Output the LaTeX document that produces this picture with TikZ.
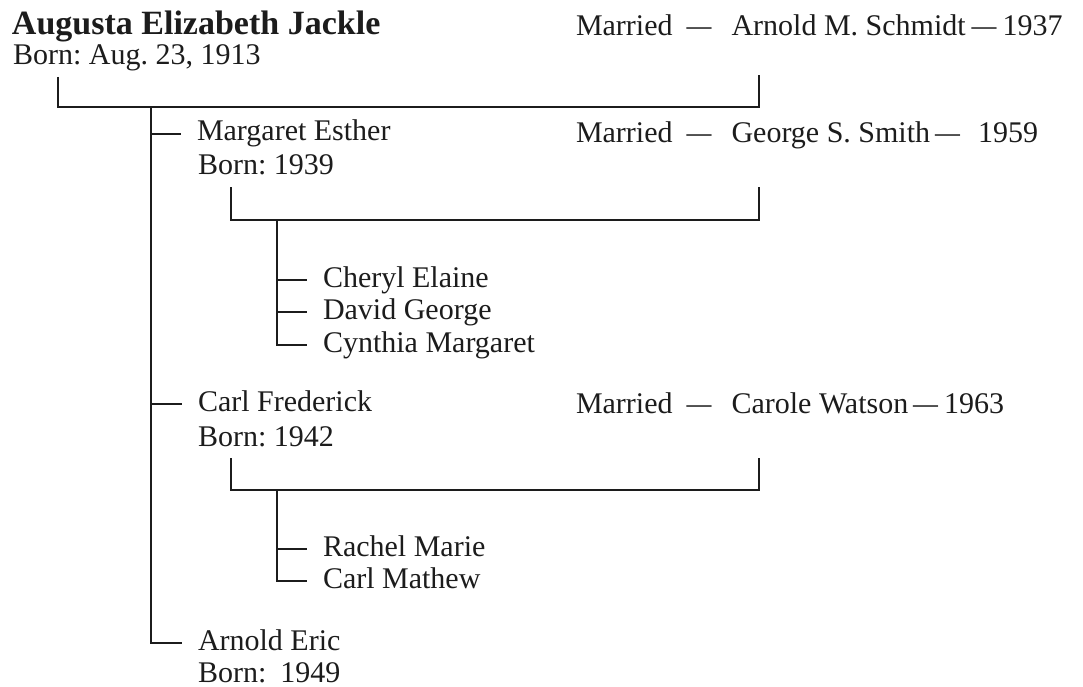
\documentclass[tikz,border=0pt]{standalone}
\usepackage{fontspec}
\setmainfont{Liberation Serif}
\frenchspacing
\definecolor{ink}{HTML}{1C1C1C}
% a slightly narrowed em dash, as set in the chart
\newcommand\chartdash{\scalebox{0.83}[1]{—}}
\begin{document}
\begin{tikzpicture}[x=1pt,y=-1pt,
  txt/.style={anchor=base west, inner sep=0pt, outer sep=0pt, text=ink,
    font=\fontsize{30}{32}\selectfont},
  ttl/.style={txt, font=\fontsize{34}{36}\selectfont\bfseries},
  link/.style={draw=ink, line width=2pt, line join=miter},
  tick/.style={shift={(-16,-7)}}
]
\useasboundingbox (0,0) rectangle (1083,687);

% ---- generation 1
\node[ttl] (root)  at (12,35) {Augusta Elizabeth Jackle};
\node[txt] (rootb) at (13,65) {Born: Aug. 23, 1913};
\node[txt] (rootm) at (576,36) {Married\hspace{14pt}\chartdash\hspace{20pt}Arnold M. Schmidt\hspace{6pt}\chartdash\hspace{6pt}1937};

% ---- generation 2
\node[txt] (m1)  at (197,141) {Margaret Esther};
\node[txt] (m1b) at (198,175) {Born: 1939};
\node[txt] (m1m) at (576,143) {Married\hspace{14pt}\chartdash\hspace{20pt}George S. Smith\hspace{5pt}\chartdash\hspace{18pt}1959};

\node[txt] (m2)  at (198,411) {Carl Frederick};
\node[txt] (m2b) at (198,446) {Born: 1942};
\node[txt] (m2m) at (576,413) {Married\hspace{14pt}\chartdash\hspace{20pt}Carole Watson\hspace{5pt}\chartdash\hspace{6pt}1963};

\node[txt] (m3)  at (198,650) {Arnold Eric};
\node[txt] (m3b) at (198,682) {Born:\hspace{14pt}1949};

% ---- generation 3
\node[txt] (c11) at (323,287) {Cheryl Elaine};
\node[txt] (c12) at (323,319) {David George};
\node[txt] (c13) at (323,352) {Cynthia Margaret};

\node[txt] (c21) at (323,556) {Rachel Marie};
\node[txt] (c22) at (323,588) {Carl Mathew};

% ---- tick ends, just left of each name
\foreach \n in {m1,m2,m3,c11,c12,c13,c21,c22}
  \coordinate (t\n) at ([tick]\n.base west);

% ---- marriage brackets and descent lines
\coordinate (p1) at (58,77);   \coordinate (q1) at (759,75);  \coordinate (j1) at (151,107);
\coordinate (p2) at (231,187); \coordinate (q2) at (759,187); \coordinate (j2) at (277,220);
\coordinate (p3) at (231,458); \coordinate (q3) at (759,458); \coordinate (j3) at (277,490);

\draw[link] (p1) |- (q1 |- j1) -- (q1);
\draw[link] (j1) |- (tm3);
\draw[link] (j1 |- tm1) -- (tm1);
\draw[link] (j1 |- tm2) -- (tm2);

\draw[link] (p2) |- (q2 |- j2) -- (q2);
\draw[link] (j2) |- (tc13);
\draw[link] (j2 |- tc11) -- (tc11);
\draw[link] (j2 |- tc12) -- (tc12);

\draw[link] (p3) |- (q3 |- j3) -- (q3);
\draw[link] (j3) |- (tc22);
\draw[link] (j3 |- tc21) -- (tc21);
\end{tikzpicture}
\end{document}
